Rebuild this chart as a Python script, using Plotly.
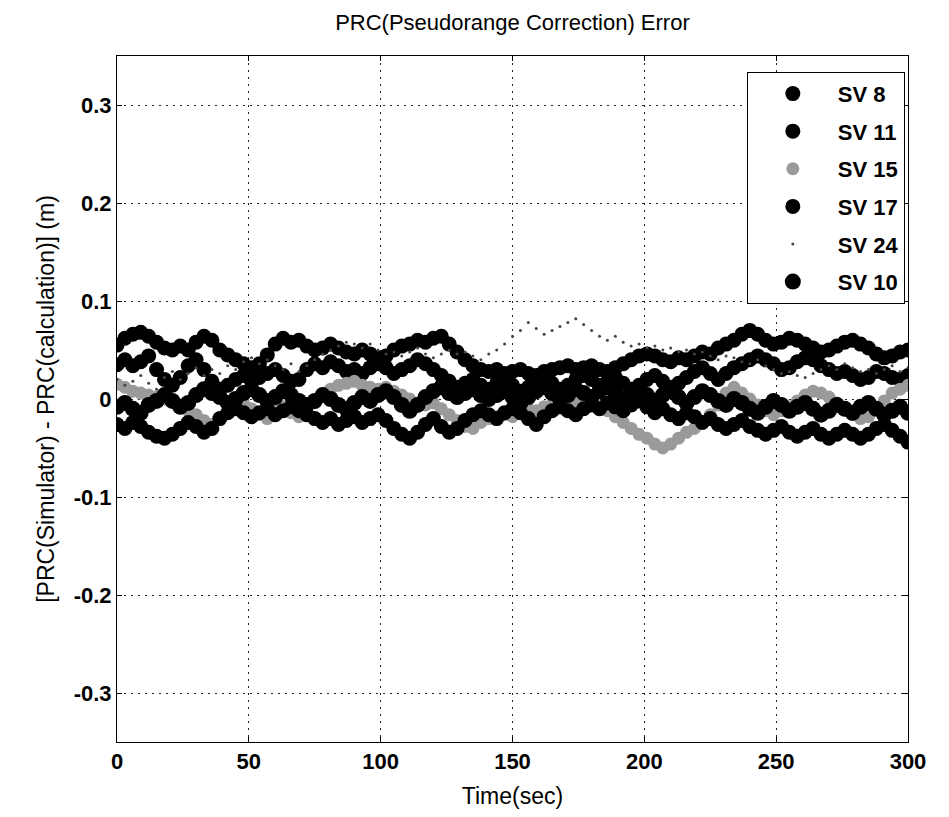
import plotly.graph_objects as go

# time grid (sec), one sample every 3 s
t = list(range(0, 301, 3))

sv8 = [0.055, 0.062, 0.066, 0.068, 0.064, 0.058, 0.052, 0.050, 0.054, 0.050,
       0.058, 0.064, 0.060, 0.050, 0.045, 0.040, 0.036, 0.032, 0.036, 0.045,
       0.056, 0.062, 0.058, 0.060, 0.054, 0.050, 0.052, 0.056, 0.052, 0.048,
       0.046, 0.050, 0.046, 0.042, 0.044, 0.050, 0.054, 0.056, 0.060, 0.058,
       0.062, 0.064, 0.056, 0.048, 0.040, 0.034, 0.030, 0.028, 0.030, 0.026,
       0.028, 0.030, 0.026, 0.024, 0.028, 0.030, 0.032, 0.034, 0.030, 0.032,
       0.034, 0.030, 0.028, 0.032, 0.036, 0.040, 0.044, 0.046, 0.044, 0.040,
       0.038, 0.042, 0.040, 0.044, 0.048, 0.046, 0.052, 0.056, 0.060, 0.066,
       0.070, 0.066, 0.060, 0.056, 0.058, 0.062, 0.060, 0.056, 0.052, 0.048,
       0.050, 0.054, 0.058, 0.060, 0.056, 0.052, 0.046, 0.042, 0.044, 0.048,
       0.050]

sv11 = [0.035, 0.040, 0.034, 0.038, 0.044, 0.030, 0.020, 0.014, 0.022, 0.034,
        0.040, 0.030, 0.018, 0.010, 0.014, 0.020, 0.024, 0.018, 0.022, 0.026,
        0.030, 0.024, 0.018, 0.020, 0.030, 0.036, 0.032, 0.038, 0.034, 0.028,
        0.030, 0.026, 0.032, 0.036, 0.032, 0.026, 0.030, 0.034, 0.040, 0.036,
        0.030, 0.024, 0.018, 0.012, 0.016, 0.020, 0.014, 0.010, 0.016, 0.020,
        0.014, 0.008, 0.012, 0.018, 0.022, 0.016, 0.010, 0.014, 0.020, 0.024,
        0.020, 0.014, 0.018, 0.022, 0.016, 0.010, 0.014, 0.020, 0.024, 0.018,
        0.012, 0.016, 0.022, 0.028, 0.032, 0.026, 0.020, 0.026, 0.032, 0.036,
        0.040, 0.044, 0.040, 0.036, 0.030, 0.032, 0.038, 0.042, 0.040, 0.034,
        0.030, 0.026, 0.028, 0.024, 0.020, 0.022, 0.028, 0.026, 0.022, 0.020,
        0.024]

sv15 = [0.015, 0.012, 0.008, 0.006, 0.004, 0.002, 0.000, -0.002, -0.006, -0.012,
        -0.016, -0.022, -0.026, -0.020, -0.012, -0.006, -0.004, -0.010, -0.016, -0.020,
        -0.010, -0.008, -0.014, -0.018, -0.012, -0.004, 0.004, 0.010, 0.014, 0.016,
        0.018, 0.014, 0.012, 0.010, 0.012, 0.008, 0.004, 0.000, -0.004, -0.006,
        -0.004, -0.010, -0.016, -0.022, -0.028, -0.030, -0.024, -0.020, -0.018, -0.016,
        -0.018, -0.012, -0.010, -0.012, -0.008, -0.006, -0.004, -0.002, -0.004, -0.006,
        -0.004, -0.008, -0.012, -0.018, -0.024, -0.030, -0.036, -0.040, -0.046, -0.050,
        -0.046, -0.040, -0.034, -0.030, -0.024, -0.016, -0.006, 0.006, 0.012, 0.006,
        0.000, -0.006, -0.012, -0.016, -0.012, -0.008, -0.002, 0.004, 0.008, 0.006,
        0.002, -0.004, -0.010, -0.016, -0.020, -0.018, -0.010, -0.002, 0.006, 0.010,
        0.014]

sv17 = [-0.026, -0.030, -0.024, -0.028, -0.034, -0.038, -0.040, -0.036, -0.030, -0.024,
        -0.028, -0.034, -0.030, -0.020, -0.014, -0.010, -0.014, -0.018, -0.014, -0.010,
        -0.016, -0.012, -0.008, -0.012, -0.016, -0.020, -0.024, -0.020, -0.026, -0.022,
        -0.018, -0.024, -0.020, -0.016, -0.022, -0.030, -0.036, -0.040, -0.034, -0.026,
        -0.020, -0.028, -0.034, -0.030, -0.022, -0.016, -0.012, -0.016, -0.020, -0.014,
        -0.010, -0.014, -0.020, -0.026, -0.018, -0.012, -0.008, -0.012, -0.016, -0.010,
        -0.006, -0.010, -0.004, -0.008, -0.012, -0.006, -0.002, -0.008, -0.014, -0.010,
        -0.016, -0.020, -0.014, -0.018, -0.024, -0.020, -0.026, -0.030, -0.026, -0.022,
        -0.028, -0.032, -0.036, -0.032, -0.028, -0.034, -0.038, -0.034, -0.030, -0.036,
        -0.040, -0.036, -0.032, -0.036, -0.040, -0.036, -0.030, -0.026, -0.032, -0.038,
        -0.044]

sv24 = [0.020, 0.014, 0.018, 0.024, 0.016, 0.010, 0.022, 0.028, 0.020, 0.026,
        0.032, 0.024, 0.030, 0.026, 0.034, 0.030, 0.038, 0.042, 0.036, 0.040,
        0.034, 0.030, 0.036, 0.028, 0.034, 0.040, 0.046, 0.050, 0.054, 0.058,
        0.056, 0.052, 0.056, 0.050, 0.046, 0.048, 0.044, 0.048, 0.052, 0.046,
        0.042, 0.046, 0.050, 0.046, 0.048, 0.044, 0.040, 0.046, 0.050, 0.056,
        0.064, 0.070, 0.078, 0.072, 0.066, 0.070, 0.074, 0.078, 0.082, 0.076,
        0.070, 0.064, 0.060, 0.064, 0.058, 0.054, 0.056, 0.052, 0.054, 0.050,
        0.052, 0.048, 0.050, 0.046, 0.048, 0.044, 0.040, 0.044, 0.042, 0.038,
        0.036, 0.040, 0.034, 0.030, 0.026, 0.028, 0.024, 0.022, 0.026, 0.030,
        0.034, 0.030, 0.036, 0.032, 0.028, 0.030, 0.026, 0.030, 0.034, 0.028,
        0.032]

sv10 = [-0.008, -0.004, -0.010, -0.014, -0.006, -0.002, 0.004, -0.002, -0.008, -0.004,
        0.004, 0.010, 0.006, 0.002, -0.004, 0.000, 0.006, 0.010, 0.004, -0.002,
        0.002, 0.008, 0.004, -0.002, -0.006, -0.002, 0.004, 0.000, -0.006, -0.010,
        -0.004, 0.002, -0.002, 0.004, 0.008, 0.002, -0.006, -0.012, -0.006, 0.002,
        0.008, 0.012, 0.006, 0.002, 0.006, 0.010, 0.004, 0.000, 0.004, 0.008,
        0.002, -0.004, 0.002, 0.008, 0.012, 0.006, 0.000, 0.004, 0.010, 0.006,
        0.002, 0.008, 0.012, 0.006, 0.000, 0.006, 0.010, 0.004, -0.002, 0.004,
        0.008, 0.002, -0.004, 0.002, 0.008, 0.004, -0.002, -0.006, 0.000, -0.004,
        -0.010, -0.014, -0.008, -0.002, -0.006, -0.012, -0.008, -0.004, -0.010, -0.016,
        -0.012, -0.006, -0.010, -0.014, -0.008, -0.004, -0.010, -0.016, -0.012, -0.008,
        -0.014]

series = [
    ("SV 8", sv8, "black", 15),
    ("SV 11", sv11, "black", 15),
    ("SV 15", sv15, "#9a9a9a", 13),
    ("SV 17", sv17, "black", 15),
    ("SV 24", sv24, "#444444", 3),
    ("SV 10", sv10, "black", 16),
]

fig = go.Figure()
for i, (name, vals, col, sz) in enumerate(series):
    fig.add_trace(go.Scatter(x=t, y=vals, mode="markers", name=name,
                             legendgroup=str(i),
                             marker=dict(color=col, size=sz, line=dict(width=0))))

font_fam = "Liberation Sans, Arial"
tick_font = dict(family=font_fam, size=22, color="black", weight="bold")

fig.update_layout(
    width=949, height=817,
    margin=dict(l=117, r=41, t=56, b=72),
    paper_bgcolor="white", plot_bgcolor="white",
    title=dict(text="PRC(Pseudorange Correction) Error", x=0.54, xanchor="center",
               y=0.973, yanchor="middle",
               font=dict(family=font_fam, size=22, color="black")),
    legend=dict(x=0.996, xanchor="right", y=0.977, yanchor="top",
                bgcolor="white", bordercolor="black", borderwidth=1,
                tracegroupgap=6, itemwidth=80,
                font=dict(family=font_fam, size=22, color="black", weight="bold")),
    showlegend=True,
)

grid = dict(showgrid=True, gridcolor="#222222", griddash="2px,5px", gridwidth=1,
            showline=True, linecolor="black", linewidth=1, mirror="ticks",
            ticks="inside", ticklen=5, tickcolor="black", zeroline=False,
            tickfont=tick_font)

fig.update_xaxes(range=[0, 300], tickvals=[0, 50, 100, 150, 200, 250, 300],
                 title=dict(text="Time(sec)", standoff=14,
                            font=dict(family=font_fam, size=23, color="black")),
                 **grid)
fig.update_yaxes(range=[-0.35, 0.35], tickvals=[-0.3, -0.2, -0.1, 0, 0.1, 0.2, 0.3],
                 ticktext=["-0.3", "-0.2", "-0.1", "0", "0.1", "0.2", "0.3"],
                 title=dict(text="[PRC(Simulator) - PRC(calculation)] (m)", standoff=12,
                            font=dict(family=font_fam, size=23, color="black")),
                 **grid)

fig.write_html("out.html", config={"displayModeBar": False},
               post_script="document.body.style.margin='0';")
